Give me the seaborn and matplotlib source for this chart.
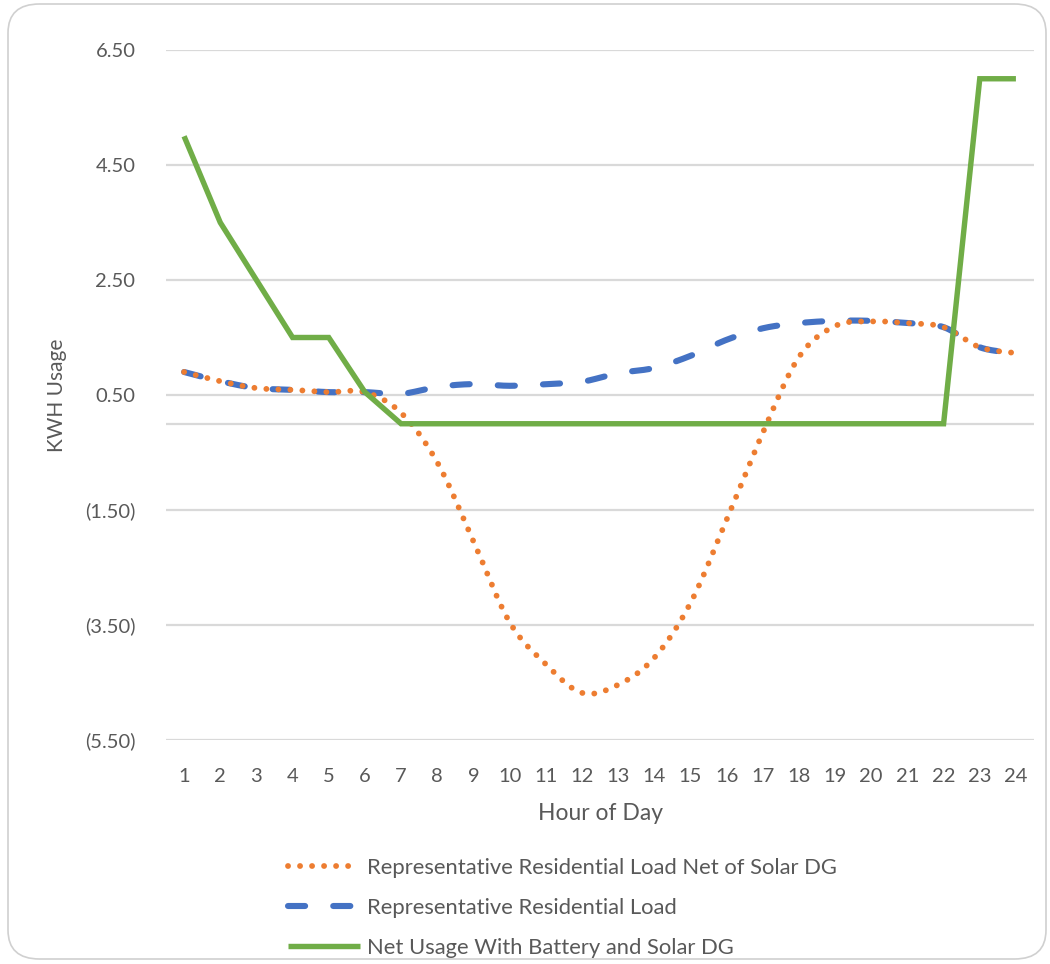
import numpy as np
import pandas as pd
import matplotlib
matplotlib.use("Agg")
import matplotlib.pyplot as plt
import seaborn as sns
from matplotlib.patches import FancyBboxPatch

# Hourly household usage (kWh)
hours = list(range(1, 25))
net_of_solar = [0.90, 0.74, 0.62, 0.59, 0.55, 0.55, 0.19, -0.67, -2.04, -3.45, -4.18, -4.68,
                -4.54, -4.07, -3.12, -1.67, -0.16, 1.16, 1.70, 1.78, 1.75, 1.68, 1.33, 1.23]
residential_load = [0.90, 0.74, 0.62, 0.59, 0.55, 0.55, 0.52, 0.64, 0.69, 0.66, 0.69, 0.73,
                    0.88, 0.97, 1.18, 1.46, 1.66, 1.75, 1.79, 1.79, 1.75, 1.68, 1.33, 1.23]
battery_and_solar = [5.0, 3.5, 2.5, 1.5, 1.5, 0.55, 0, 0, 0, 0, 0, 0,
                     0, 0, 0, 0, 0, 0, 0, 0, 0, 0, 6.0, 6.0]

series_names = ["Representative Residential Load Net of Solar DG",
                "Representative Residential Load",
                "Net Usage With Battery and Solar DG"]
y_ticks = [-5.5, -3.5, -1.5, 0.5, 2.5, 4.5, 6.5]
y_tick_labels = ["(5.50)", "(3.50)", "(1.50)", "0.50", "2.50", "4.50", "6.50"]

ORANGE, BLUE, GREEN = "#ED7D31", "#4472C4", "#70AD47"
TEXT = "#595959"
GRID = "#D9D9D9"


def smooth(x, y, steps=24):
    """Cubic Bezier curve through every point (Catmull-Rom style tangents)."""
    x = np.asarray(x, float)
    y = np.asarray(y, float)
    px = np.concatenate([[x[0]], x, [x[-1]]])
    py = np.concatenate([[y[0]], y, [y[-1]]])
    out_x, out_y = [], []
    t = np.linspace(0, 1, steps, endpoint=False)
    for i in range(1, len(px) - 2):
        p0 = np.array([px[i], py[i]])
        p3 = np.array([px[i + 1], py[i + 1]])
        c1 = p0 + (np.array([px[i + 1], py[i + 1]]) - np.array([px[i - 1], py[i - 1]])) / 6
        c2 = p3 - (np.array([px[i + 2], py[i + 2]]) - np.array([px[i], py[i]])) / 6
        b = ((1 - t) ** 3)[:, None] * p0 + (3 * (1 - t) ** 2 * t)[:, None] * c1 \
            + (3 * (1 - t) * t ** 2)[:, None] * c2 + (t ** 3)[:, None] * p3
        out_x.extend(b[:, 0])
        out_y.extend(b[:, 1])
    out_x.append(x[-1])
    out_y.append(y[-1])
    return np.array(out_x), np.array(out_y)


sns.set_theme(style="white")
plt.rcParams["font.family"] = ["Lato", "DejaVu Sans"]

W, H = 1050, 964
fig = plt.figure(figsize=(W / 100, H / 100), dpi=100)
fig.patch.set_facecolor("white")

# rounded chart-area border
fig.patches.append(FancyBboxPatch((8 / W, 5 / H), (1046 - 8) / W, (960 - 5) / H,
                                  boxstyle="round,pad=0,rounding_size=0.03",
                                  transform=fig.transFigure, facecolor="none",
                                  edgecolor="#D0D0D0", linewidth=1.2))

ax = fig.add_axes([166 / W, 1 - 740 / H, (1034 - 166) / W, (740 - 50) / H])

ax.yaxis.grid(True, color=GRID, linewidth=1.6)
ax.set_axisbelow(True)
ax.axhline(0, color=GRID, linewidth=1.6, zorder=0.5)

bx, by = smooth(hours, residential_load)
ox, oy = smooth(hours, net_of_solar)
df_blue = pd.DataFrame({"hour": bx, "kwh": by})
df_orange = pd.DataFrame({"hour": ox, "kwh": oy})
df_green = pd.DataFrame({"hour": hours, "kwh": battery_and_solar})

sns.lineplot(data=df_blue, x="hour", y="kwh", ax=ax, color=BLUE, linewidth=4.4,
             sort=False, estimator=None, label=series_names[1])
sns.lineplot(data=df_orange, x="hour", y="kwh", ax=ax, color=ORANGE, linewidth=4.2,
             sort=False, estimator=None, label=series_names[0])
sns.lineplot(data=df_green, x="hour", y="kwh", ax=ax, color=GREEN, linewidth=3.9,
             sort=False, estimator=None, label=series_names[2])

blue_line, orange_line, green_line = ax.get_lines()[-3:]
blue_line.set_linestyle((0, (2.8, 4.6)))
blue_line.set_dash_capstyle("round")
orange_line.set_linestyle((0, (0.01, 2.05)))
orange_line.set_dash_capstyle("round")
green_line.set_solid_capstyle("butt")
green_line.set_solid_joinstyle("miter")

ax.set_xlim(0.5, 24.5)
ax.set_ylim(-5.5, 6.5)
ax.set_xticks(hours)
ax.set_xticklabels([str(h) for h in hours])
ax.set_yticks(y_ticks)
ax.set_yticklabels(y_tick_labels)
ax.tick_params(axis="x", length=0, pad=20, labelsize=14.5, labelcolor=TEXT)
ax.tick_params(axis="y", length=0, pad=22, labelsize=14.5, labelcolor=TEXT)
for s in ax.spines.values():
    s.set_visible(False)

ax.set_xlabel("Hour of Day", fontsize=16.5, color=TEXT, labelpad=13)
ax.set_ylabel("KWH Usage", fontsize=15, color=TEXT, labelpad=13)

ax.get_legend().remove()
handles = [orange_line, blue_line, green_line]
fig.legend(handles, series_names, loc="upper left",
           bbox_to_anchor=(288 / W, 1 - 858 / H), frameon=False,
           fontsize=15.8, labelcolor=TEXT, handlelength=3.3, handletextpad=0.3,
           labelspacing=0.9, borderpad=0, borderaxespad=0)

fig.savefig("out.png", dpi=100, facecolor="white")
